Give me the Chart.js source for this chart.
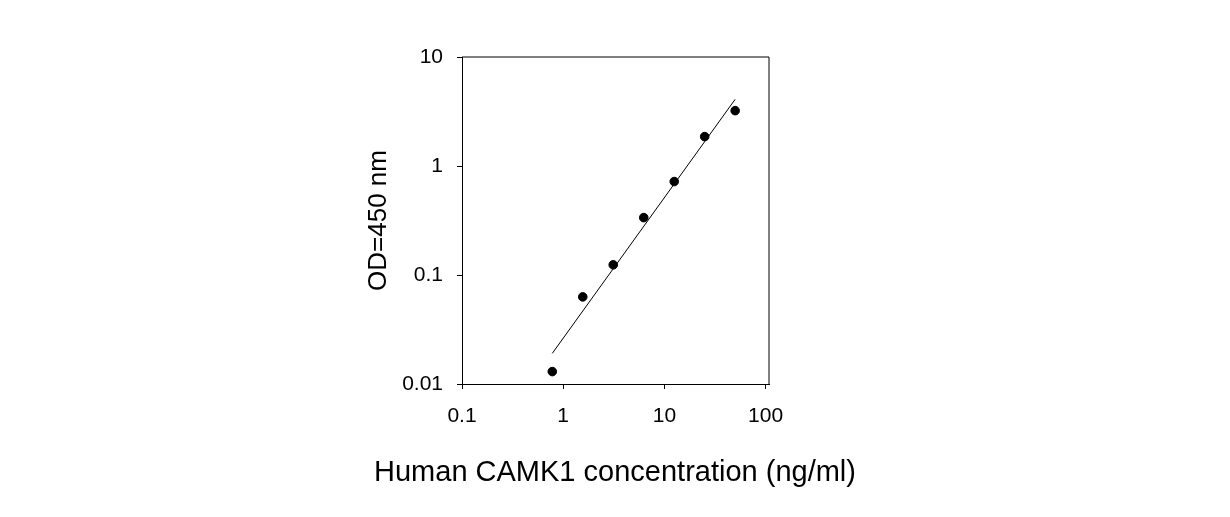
<!DOCTYPE html>
<html>
<head>
<meta charset="utf-8">
<script src="https://cdn.jsdelivr.net/npm/chart.js@4.4.1/dist/chart.umd.min.js"></script>
<style>
  html, body { margin: 0; padding: 0; background: #fff; }
  #wrap { width: 1230px; height: 517px; }
</style>
</head>
<body>
<div id="wrap"><canvas id="canvasid" width="1230" height="517"></canvas></div>
<script>
const concentration = [0.78, 1.56, 3.12, 6.25, 12.5, 25, 50];
const od = [0.013, 0.063, 0.124, 0.336, 0.72, 1.86, 3.22];
const fitX = [0.78, 50];
const fitY = [0.0191, 4.09];
const xTicks = [0.1, 1, 10, 100];
const yTicks = [0.01, 0.1, 1, 10];

const font = "'Liberation Sans', Arial, sans-serif";

// top and right border of the plot box
const frame = {
    id: "frame",
    afterDraw(chart) {
        const { ctx, chartArea } = chart;
        ctx.save();
        ctx.strokeStyle = "#000";
        ctx.lineWidth = 1;
        ctx.beginPath();
        ctx.moveTo(chartArea.left, chartArea.top);
        ctx.lineTo(chartArea.right, chartArea.top);
        ctx.lineTo(chartArea.right, chartArea.bottom + 1);
        ctx.stroke();
        ctx.restore();
    }
};

const canvas = document.getElementById("canvasid");

new Chart(canvas, {
    type: "scatter",
    data: {
        datasets: [{
            label: "OD",
            data: concentration.map((c, i) => ({ x: c, y: od[i] })),
            backgroundColor: "#000",
            borderColor: "#000",
            pointRadius: 4.3,
            pointHoverRadius: 4.3
        }, {
            label: "fit",
            type: "line",
            data: fitX.map((c, i) => ({ x: c, y: fitY[i] })),
            borderColor: "#000",
            borderWidth: 1,
            pointRadius: 0,
            fill: false
        }]
    },
    options: {
        responsive: false,
        animation: false,
        devicePixelRatio: 1,
        layout: {
            padding: { left: 0, top: 57, right: 0, bottom: 0 }
        },
        plugins: {
            legend: { display: false },
            tooltip: { enabled: false },
            title: {
                display: true,
                position: "bottom",
                text: "Human CAMK1 concentration (ng/ml)",
                color: "#000",
                font: { family: font, size: 29, weight: "normal" },
                padding: { top: 0, bottom: 26.6 }
            }
        },
        scales: {
            x: {
                type: "logarithmic",
                min: 0.1,
                max: 108,
                afterBuildTicks: (s) => { s.ticks = xTicks.map(v => ({ value: v })); },
                afterFit: (s) => { s.height = 71.6; },
                grid: { drawOnChartArea: false, drawTicks: true, tickLength: 5, color: "#000" },
                border: { display: true, color: "#000", width: 1 },
                ticks: {
                    color: "#000",
                    font: { family: font, size: 21 },
                    padding: 14.5,
                    maxRotation: 0,
                    callback: (v) => String(v)
                }
            },
            y: {
                type: "logarithmic",
                min: 0.01,
                max: 10,
                afterBuildTicks: (s) => { s.ticks = yTicks.map(v => ({ value: v })); },
                afterFit: (s) => { s.width = 462; },
                grid: { drawOnChartArea: false, drawTicks: true, tickLength: 5, color: "#000" },
                border: { display: true, color: "#000", width: 1 },
                ticks: {
                    color: "#000",
                    font: { family: font, size: 21 },
                    padding: 14,
                    callback: (v) => String(v)
                },
                title: {
                    display: true,
                    text: "OD=450 nm",
                    color: "#000",
                    font: { family: font, size: 26 },
                    padding: { top: 363, bottom: 0 }
                }
            },
            // empty spacer on the right so the plot box sits where it does in the picture
            spacer: {
                type: "linear",
                position: "right",
                display: true,
                afterFit: (s) => { s.width = 461; },
                grid: { display: false },
                border: { display: false },
                ticks: { display: false }
            }
        }
    },
    plugins: [frame]
});
</script>
</body>
</html>
